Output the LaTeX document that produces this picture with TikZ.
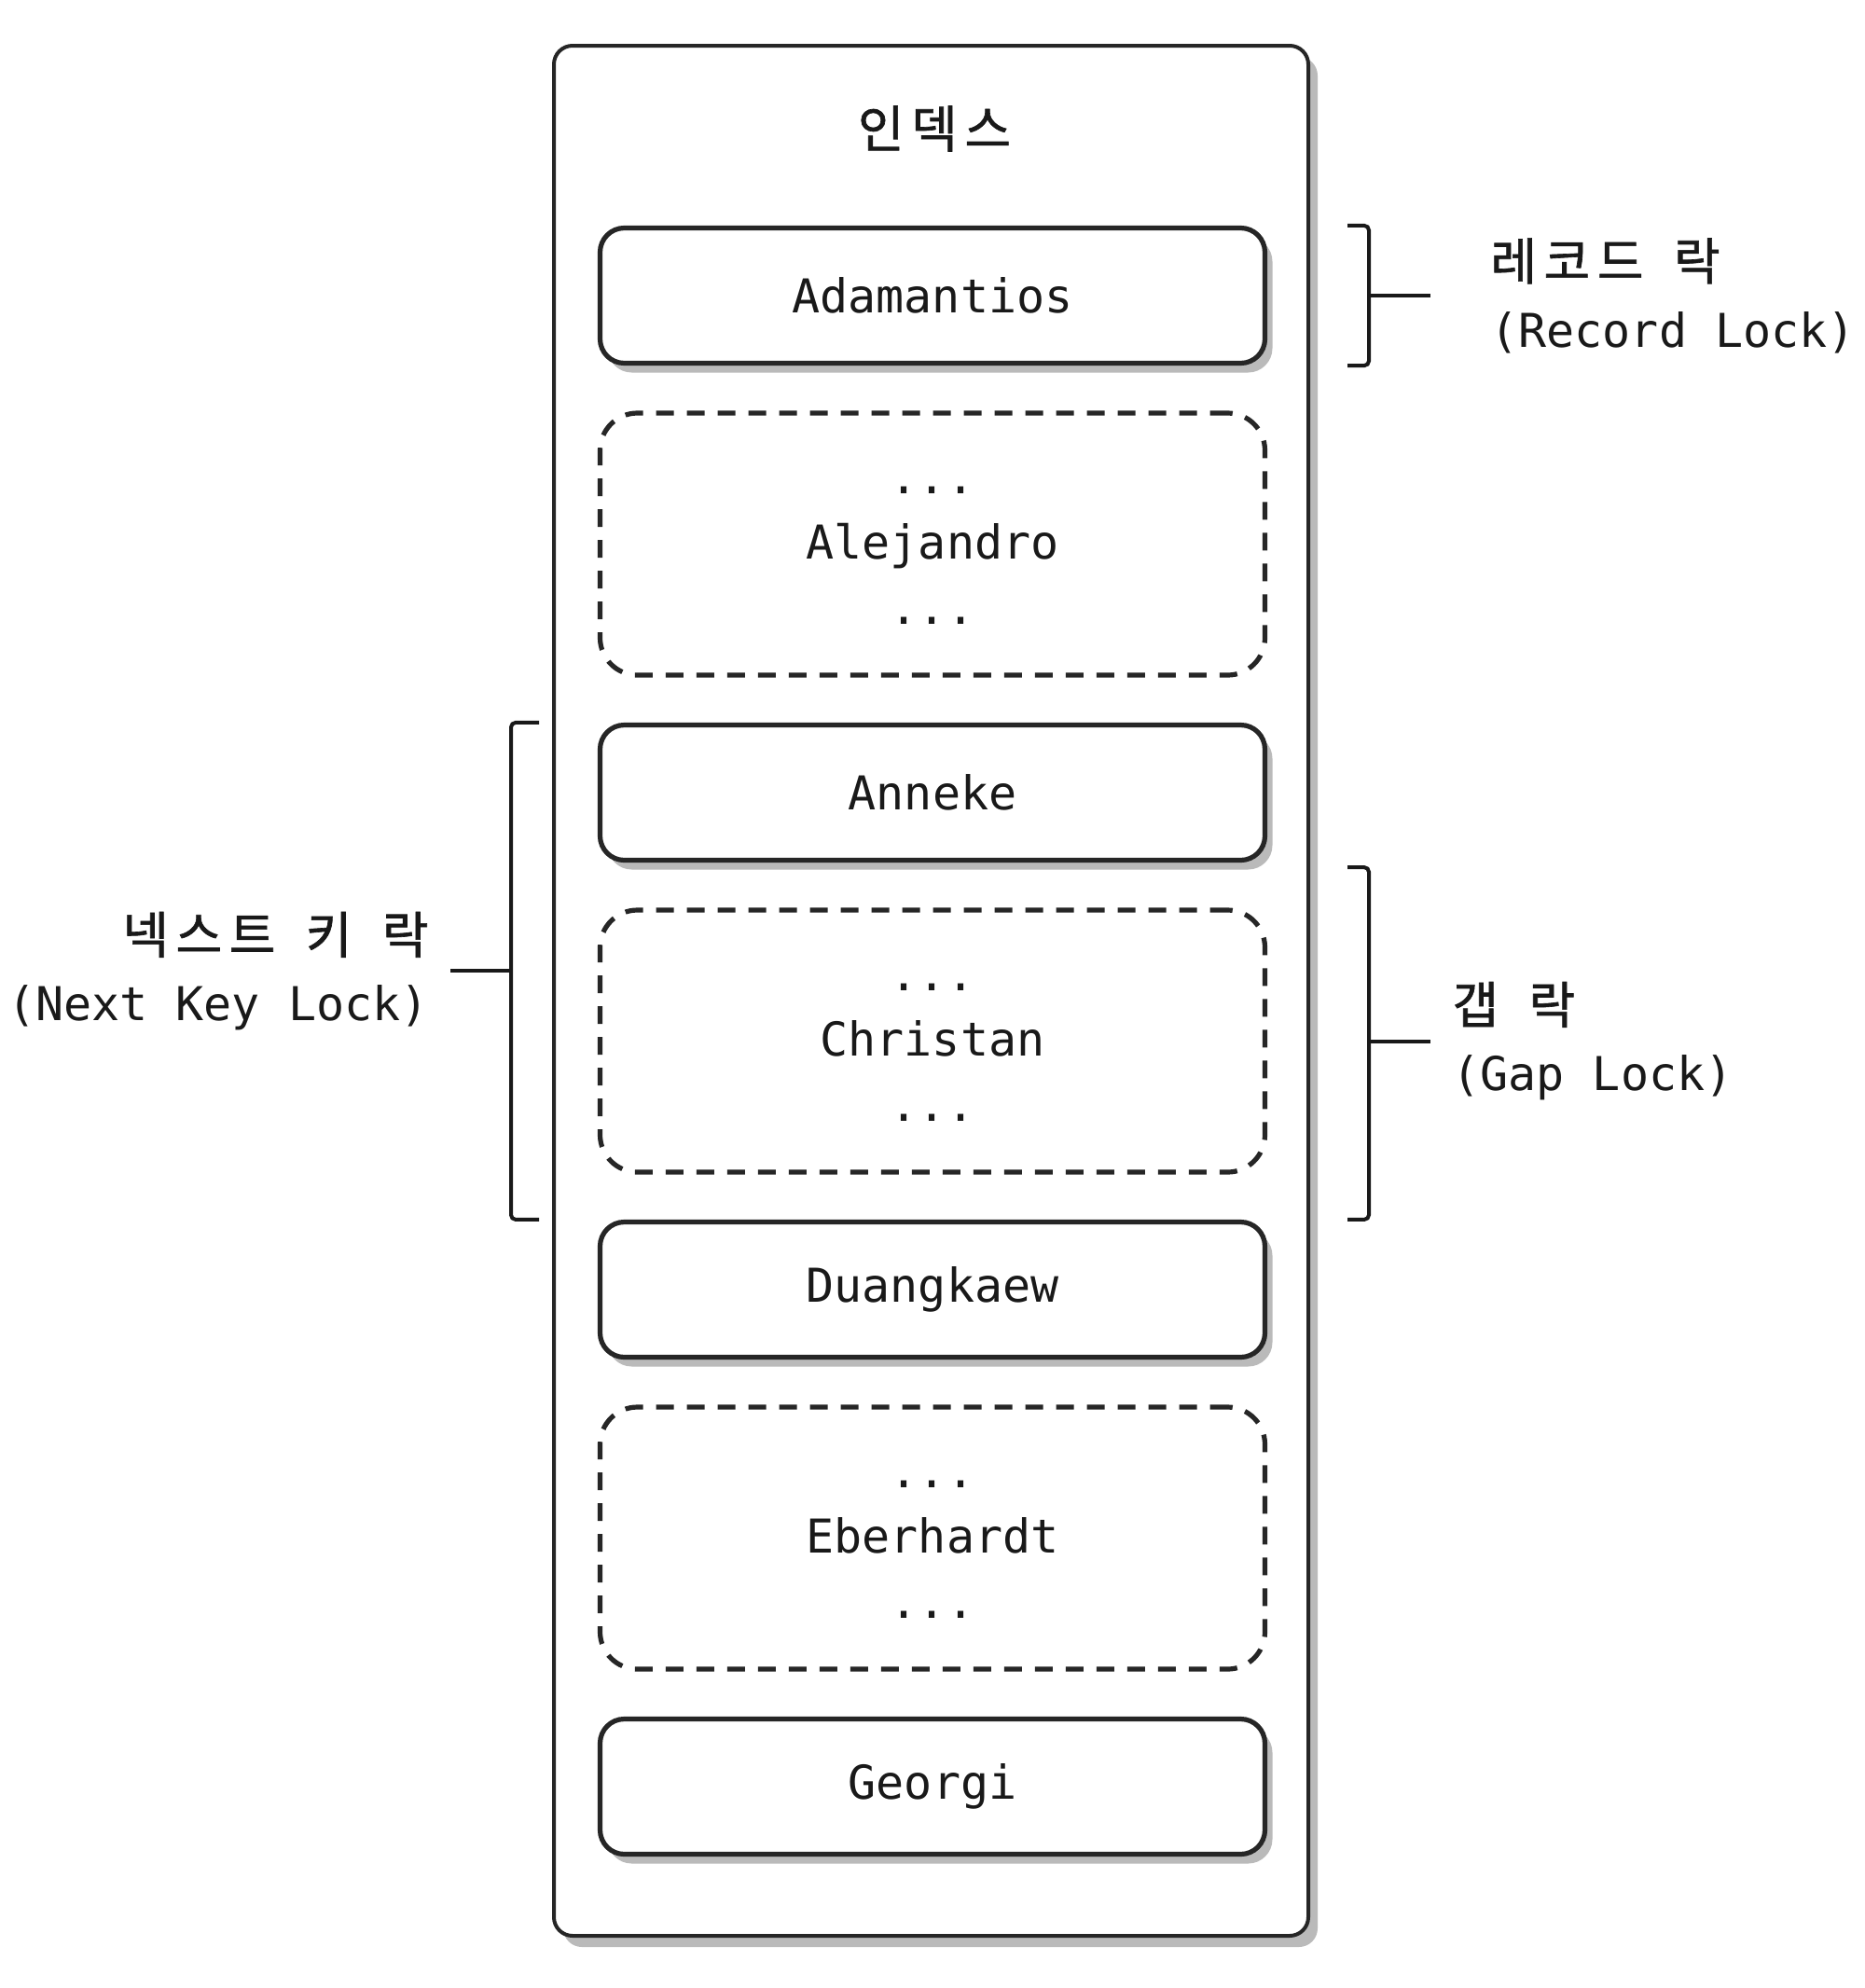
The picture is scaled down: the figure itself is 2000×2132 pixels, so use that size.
\documentclass[tikz,border=0pt]{standalone}
\usepackage{fontspec}
\setmainfont{DejaVu Sans Mono}
\newfontfamily\krfont{Noto Sans CJK KR}[LetterSpace=14, FakeBold=1.2]
\usetikzlibrary{positioning, calc, shadows}

\begin{document}
\begin{tikzpicture}[x=0.5pt, y=-0.5pt,
  idx/.style={draw=black!85, line width=2pt, rounded corners=10pt, fill=white,
              minimum width=404.5pt, minimum height=1013.5pt,
              drop shadow={shadow xshift=5pt, shadow yshift=-6pt, fill=black!45, opacity=.6}},
  rec/.style={draw=black!85, line width=2.6pt, rounded corners=13pt, fill=white,
              minimum width=356.5pt, minimum height=72.5pt, text=black!90,
              font=\fontsize{25}{35}\selectfont,
              drop shadow={shadow xshift=4pt, shadow yshift=-5pt, fill=black!45, opacity=.6}},
  gaprec/.style={draw=black!85, line width=2.6pt, dash pattern=on 9.5pt off 7pt,
              rounded corners=20pt, minimum width=356.5pt, minimum height=140.5pt},
  gaptxt/.style={text=black!90, align=center, font=\fontsize{25}{35}\selectfont},
  brk/.style={line width=2pt, black!90, rounded corners=2.5pt},
  lbl/.style={inner sep=0pt, text=black!90, font=\fontsize{25}{36}\selectfont}
]
  \useasboundingbox (0,0) rectangle (2000,2132);

  % index box
  \node[idx] (index) at (998.5,1062.5) {};
  \node[text=black!90, font=\krfont\fontsize{27}{34}\selectfont] (title) at (1002,138) {인덱스};

  % records and gaps
  \node[rec]    (adam)  at (1000, 317)   {Adamantios};
  \node[gaprec] (alej)  at (1000, 583.5) {};
  \node[gaptxt] (alejtxt) at ([yshift=-6pt]alej.center) {...\\Alejandro\\...};
  \node[rec]    (anne)  at (1000, 850)   {Anneke};
  \node[gaprec] (chris) at (1000,1116.5) {};
  \node[gaptxt] (christxt) at ([yshift=-6pt]chris.center) {...\\Christan\\...};
  \node[rec]    (duang) at (1000,1383)   {Duangkaew};
  \node[gaprec] (eber)  at (1000,1649.5) {};
  \node[gaptxt] (ebertxt) at ([yshift=-6pt]eber.center) {...\\Eberhardt\\...};
  \node[rec]    (geo)   at (1000,1916)   {Georgi};

  % brackets
  \coordinate (rx) at (1468,0);
  \coordinate (lx) at (548,0);

  \draw[brk] ([xshift=-11.5pt]adam.north -| rx) -- (adam.north -| rx)
             -- (adam.south -| rx) -- ++(-23,0);
  \coordinate (rb1) at (adam -| rx);
  \coordinate (rs1) at ($(rb1)+(66,0)$);
  \draw[brk] (rb1) -- (rs1);

  \draw[brk] ([xshift=-11.5pt,yshift=-2.5pt]anne.south -| rx) -- ([yshift=-2.5pt]anne.south -| rx)
             -- (duang.north -| rx) -- ++(-23,0);
  \coordinate (rb2) at ($(anne.south -| rx)!.5!(duang.north -| rx)$);
  \coordinate (rs2) at ($(rb2)+(66,0)$);
  \draw[brk] (rb2) -- (rs2);

  \draw[brk] ([xshift=15pt]anne.north -| lx) -- (anne.north -| lx)
             -- (duang.north -| lx) -- ++(30,0);
  \coordinate (lb) at ($(anne.north -| lx)!.5!(duang.north -| lx)$);
  \coordinate (ls) at ($(lb)+(-65,0)$);
  \draw[brk] (lb) -- (ls);

  % lock labels
  \node[lbl, right=32pt of rs1, align=left]
    (reclock) {{\krfont\fontsize{27}{36}\selectfont 레코드\hspace{.6em}락}\\(Record Lock)};
  \node[lbl, right=11.5pt of rs2, align=left]
    (gaplock) {{\krfont\fontsize{27}{36}\selectfont 갭\hspace{.6em}락}\\(Gap Lock)};
  \node[lbl, left=11.5pt of ls, align=right]
    (nextlock) {{\krfont\fontsize{27}{36}\selectfont 넥스트\hspace{.6em}키\hspace{.6em}락}\\(Next Key Lock)};
\end{tikzpicture}
\end{document}
